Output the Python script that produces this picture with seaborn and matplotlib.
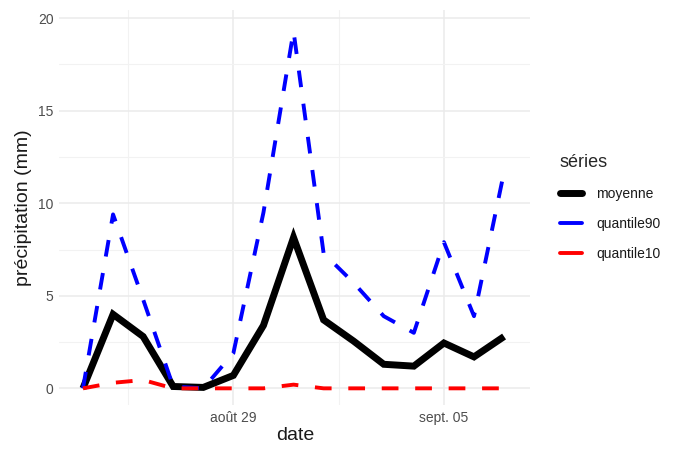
import numpy as np
import pandas as pd
import matplotlib
matplotlib.use("Agg")
import matplotlib.pyplot as plt
import matplotlib.dates as mdates
import seaborn as sns
from matplotlib.lines import Line2D

# ---- data ----
dates = pd.date_range("2023-08-24", "2023-09-07", freq="D")
moyenne = [0.0, 4.0, 2.8, 0.1, 0.05, 0.7, 3.4, 8.15, 3.7, 2.55, 1.3, 1.2, 2.45, 1.7, 2.8]
quantile90 = [0.0, 9.4, 4.8, 0.1, 0.0, 1.9, 9.5, 19.3, 7.3, 5.7, 3.9, 3.0, 7.9, 3.9, 11.7]
quantile10 = [0.0, 0.3, 0.45, 0.0, 0.0, 0.0, 0.0, 0.2, 0.0, 0.0, 0.0, 0.0, 0.0, 0.0, 0.0]
series_names = ["moyenne", "quantile90", "quantile10"]
series_colors = ["#000000", "#0000FF", "#FF0000"]
tick_dates = ["2023-08-29", "2023-09-05"]
tick_labels = ["août 29", "sept. 05"]
minor_x = ["2023-08-25 12:00", "2023-09-01 12:00"]
y_major = [0, 5, 10, 15, 20]
y_minor = [2.5, 7.5, 12.5, 17.5]

df = pd.DataFrame({"date": dates, "moyenne": moyenne,
                   "quantile90": quantile90, "quantile10": quantile10})
long = df.melt(id_vars="date", var_name="série", value_name="valeur")

sns.set_theme(style="white")
plt.rcParams["font.family"] = ["Liberation Sans", "DejaVu Sans"]

fig = plt.figure(figsize=(6.8, 4.5), dpi=100)
ax = fig.add_axes([0.087, 0.1, 0.693, 0.878])

styles = {
    "moyenne": dict(lw=5.0, dashes=None),
    "quantile90": dict(lw=2.8, dashes=(4.3, 4.3)),
    "quantile10": dict(lw=2.8, dashes=(4.3, 4.3)),
}
for name, col in zip(series_names, series_colors):
    sub = long[long["série"] == name]
    sns.lineplot(data=sub, x="date", y="valeur", color=col,
                 linewidth=styles[name]["lw"], legend=False, ax=ax)
    ln = ax.lines[-1]
    if styles[name]["dashes"] is not None:
        ln.set_dashes(styles[name]["dashes"])
    ln.set_solid_joinstyle("miter")
    ln.set_dash_capstyle("butt")
    ln.set_solid_capstyle("butt")
    ln.set_zorder(3 if name == "moyenne" else 4)

# limits
ax.set_xlim(pd.Timestamp("2023-08-23 05:00"), pd.Timestamp("2023-09-07 21:00"))
ax.set_ylim(-0.9, 20.45)

# grid
ax.set_xticks(pd.to_datetime(tick_dates))
ax.set_xticklabels(tick_labels)
ax.set_xticks(pd.to_datetime(minor_x), minor=True)
ax.set_yticks(y_major)
ax.set_yticklabels([str(v) for v in y_major])
ax.set_yticks(y_minor, minor=True)
ax.grid(True, which="major", color="#EBEBEB", linewidth=1.1)
ax.grid(True, which="minor", color="#F2F2F2", linewidth=0.8)
ax.set_axisbelow(True)
for s in ax.spines.values():
    s.set_visible(False)
ax.tick_params(axis="both", which="both", length=0, labelsize=10, labelcolor="#4D4D4D", pad=4)

ax.set_xlabel("date", fontsize=14, color="#1a1a1a", labelpad=2)
ax.set_ylabel("précipitation (mm)", fontsize=14, color="#1a1a1a", labelpad=4)

handles = [Line2D([0], [0], color=series_colors[0], lw=5.0),
           Line2D([0], [0], color=series_colors[1], lw=2.8),
           Line2D([0], [0], color=series_colors[2], lw=2.8)]
leg = fig.legend(handles, series_names, title="séries", loc="upper left",
                 bbox_to_anchor=(0.805, 0.685), frameon=False, fontsize=10,
                 title_fontsize=13, handlelength=1.6, handletextpad=1.0,
                 labelspacing=1.15, alignment="left")
for t in leg.get_texts():
    t.set_color("#1a1a1a")

fig.savefig("out.png", dpi=100)
